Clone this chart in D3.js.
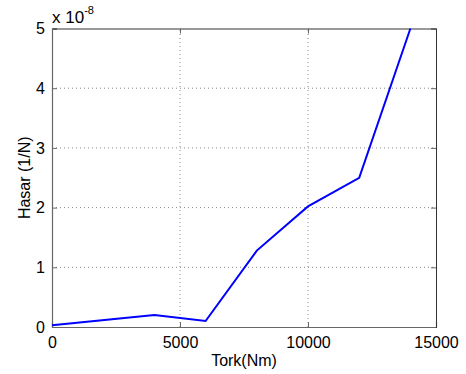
<!DOCTYPE html>
<html>
<head>
<meta charset="utf-8">
<script src="https://cdn.jsdelivr.net/npm/d3@7"></script>
<style>
body{margin:0;background:#fff;}
svg text{font-family:"Liberation Sans",Arial,sans-serif;fill:#000;}
</style>
</head>
<body>
<svg id="chart" width="466" height="374"></svg>
<script>
// data (y in units of 1e-8)
var torque=[0,4000,6000,8000,10000,12000,14000];
var damage=[0.03,0.2,0.1,1.28,2.02,2.5,5.0];
var xTicks=[0,5000,10000,15000];
var yTicks=[0,1,2,3,4,5];

var W=466, H=374;
var pad={left:52,right:30,top:28.5,bottom:47};

var svg=d3.select('#chart');
var x=d3.scaleLinear().domain([0,15000]).range([pad.left,W-pad.right]);
var y=d3.scaleLinear().domain([0,5]).range([H-pad.bottom,pad.top]);

var gg=svg.append('g');

// grid
gg.selectAll('.xg').data(xTicks.slice(1,-1)).enter().append('line')
    .attr('x1',function(d){return x(d);}).attr('x2',function(d){return x(d);})
    .attr('y1',y(0)).attr('y2',y(5))
    .attr('stroke','#888').attr('stroke-width',1).attr('stroke-dasharray','1,3');
gg.selectAll('.yg').data(yTicks.slice(1,-1)).enter().append('line')
    .attr('x1',x(0)).attr('x2',x(15000))
    .attr('y1',function(d){return y(d);}).attr('y2',function(d){return y(d);})
    .attr('stroke','#888').attr('stroke-width',1).attr('stroke-dasharray','1,3');

// axes with inward ticks (MATLAB style)
var xAxis=d3.axisBottom(x).tickValues(xTicks).tickSize(-5).tickPadding(10).tickFormat(d3.format('d'));
var yAxis=d3.axisLeft(y).tickValues(yTicks).tickSize(-5).tickPadding(7).tickFormat(d3.format('d'));
var xTop=d3.axisTop(x).tickValues(xTicks).tickSize(-5).tickFormat('');
var yRight=d3.axisRight(y).tickValues(yTicks).tickSize(-5).tickFormat('');

gg.append('g').attr('transform','translate(0,'+y(0)+')').call(xAxis);
gg.append('g').attr('transform','translate('+x(0)+',0)').call(yAxis);
gg.append('g').attr('class','box').attr('transform','translate(0,'+y(5)+')').call(xTop);
gg.append('g').attr('class','box').attr('transform','translate('+x(15000)+',0)').call(yRight);

svg.selectAll('.domain').attr('stroke','#666').attr('stroke-width',1.2);
svg.selectAll('.tick line').attr('stroke','#666');
svg.selectAll('.box .domain').attr('stroke','#333').attr('stroke-width',1);
svg.selectAll('.tick text').style('font-size','16px').attr('fill','#000');

// data line
var line=d3.line()
    .x(function(d,i){return x(torque[i]);})
    .y(function(d){return y(d);});
gg.append('path').attr('d',line(damage))
    .attr('fill','none').attr('stroke','#0000ff').attr('stroke-width',2);

// exponent label
var ex=gg.append('text').attr('x',52).attr('y',23).style('font-size','17px');
ex.append('tspan').text('x 10');
ex.append('tspan').attr('dy',-9).style('font-size','11px').text('-8');

// axis labels
gg.append('text')
    .attr('transform','translate('+(x(7500))+','+(H-8)+')')
    .style('text-anchor','middle').style('font-size','16px')
    .text('Tork(Nm)');
gg.append('text')
    .attr('transform','translate(30,'+((y(0)+y(5))/2)+') rotate(-90)')
    .style('text-anchor','middle').style('font-size','16px')
    .text('Hasar (1/N)');
</script>
</body>
</html>
